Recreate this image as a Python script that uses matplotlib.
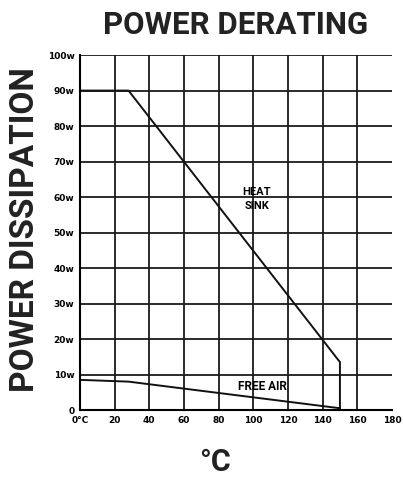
import matplotlib
matplotlib.use("Agg")
import matplotlib.pyplot as plt

# courbes de derating
temp_radiateur = [0, 28, 150, 150]
puissance_radiateur = [90, 90, 13.5, 0]
temp_air = [0, 28, 150]
puissance_air = [8.5, 8, 0.5]

x_ticks = [0, 20, 40, 60, 80, 100, 120, 140, 160, 180]
x_labels = ["0°C", "20", "40", "60", "80", "100", "120", "140", "160", "180"]
y_ticks = [0, 10, 20, 30, 40, 50, 60, 70, 80, 90, 100]
y_labels = ["0", "10w", "20w", "30w", "40w", "50w", "60w", "70w", "80w", "90w", "100w"]

police = ["Roboto", "DejaVu Sans"]

fig = plt.figure(figsize=(4.03, 4.79), dpi=100)
ax = fig.add_axes([0.1985, 0.144, 0.774, 0.741])

for v in y_ticks[1:]:
    ax.axhline(v, color="#1a1a1a", linewidth=1.3, xmin=0, xmax=1.0)
for v in x_ticks[1:-1]:
    ax.axvline(v, color="#1a1a1a", linewidth=1.3)

ax.plot(temp_radiateur, puissance_radiateur, color="#111111", linewidth=1.4)
ax.plot(temp_air, puissance_air, color="#111111", linewidth=1.4)

ax.text(102, 61.5, "HEAT", ha="center", va="center", fontsize=8,
        fontweight="bold", family=police)
ax.text(102, 57.5, "SINK", ha="center", va="center", fontsize=8,
        fontweight="bold", family=police)
ax.text(105, 6.5, "FREE AIR", ha="center", va="center", fontsize=8.5,
        fontweight="bold", family=police)

ax.set_xlim(0, 180)
ax.set_ylim(0, 100)
ax.set_xticks(x_ticks)
ax.set_xticklabels(x_labels, fontsize=6.5, fontweight="bold")
ax.set_yticks(y_ticks)
ax.set_yticklabels(y_labels, fontsize=6.5, fontweight="bold")
ax.tick_params(length=0, pad=4)
for s in ["top", "right"]:
    ax.spines[s].set_visible(False)
ax.spines["left"].set_linewidth(1.5)
ax.spines["bottom"].set_linewidth(1.5)

fig.text(0.584, 0.948, "POWER DERATING", ha="center", va="center",
         fontsize=22.5, fontweight="bold", family=police, color="#222222")
fig.text(0.062, 0.52, "POWER DISSIPATION", ha="center", va="center",
         rotation=90, fontsize=24, fontweight="bold", family=police,
         color="#222222")
fig.text(0.533, 0.035, "°C", ha="center", va="center",
         fontsize=22, fontweight="bold", family=police, color="#222222")

fig.savefig("out.png", dpi=100, facecolor="white")
